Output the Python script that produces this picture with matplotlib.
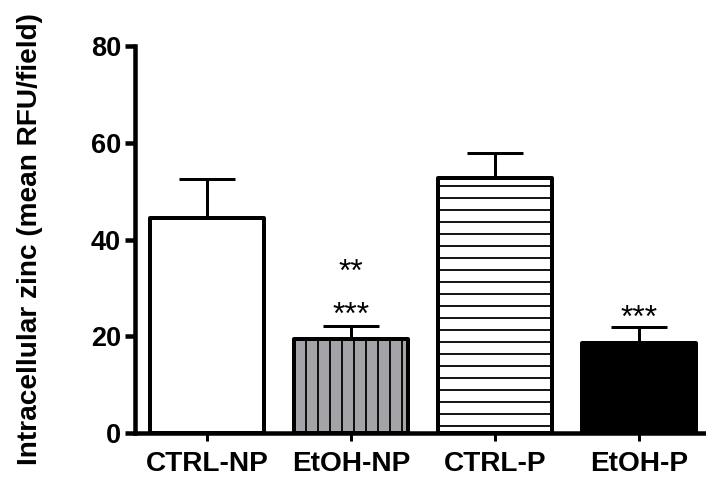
import matplotlib
matplotlib.use("Agg")
import matplotlib.pyplot as plt
import numpy as np

categories = ["CTRL-NP", "EtOH-NP", "CTRL-P", "EtOH-P"]
means = [44.5, 19.5, 52.8, 18.6]
sem_up = [8.0, 2.6, 5.0, 3.4]
fill_colors = ["white", "#a3a3a8", "white", "black"]
hatches = ["", "|", "-", ""]
star_labels = [("EtOH-NP", "**", 31.4), ("EtOH-NP", "***", 22.5), ("EtOH-P", "***", 22.0)]
y_ticks = [0, 20, 40, 60, 80]

plt.rcParams['font.family'] = ['Liberation Sans', 'DejaVu Sans']
plt.rcParams['hatch.linewidth'] = 1.8
plt.rcParams['hatch.color'] = 'black'

dpi = 72
fig = plt.figure(figsize=(706 / dpi, 483 / dpi), dpi=dpi)
ax = fig.add_axes([135 / 706, 50 / 483, (704 - 135) / 706, (433 - 46) / 483])

x = np.arange(len(categories))
for xi, m, fc, h in zip(x, means, fill_colors, hatches):
    ax.bar(xi, m, width=0.79, color=fc, edgecolor='black', linewidth=4,
           hatch=h, joinstyle='round', zorder=2)

ax.errorbar(x, means, yerr=[np.zeros(len(means)), sem_up], fmt='none',
            ecolor='black', elinewidth=3, capsize=28, capthick=3, zorder=3)

for cat, s, yv in star_labels:
    ax.text(categories.index(cat), yv, s, ha='center', va='baseline',
            fontsize=32, color='black')

ax.set_xlim(-0.5, 3.45)
ax.set_ylim(0, 80)
ax.set_yticks(y_ticks)
ax.set_xticks(x)
ax.set_xticklabels(categories, fontsize=28, fontweight='bold')
for lbl in ax.get_yticklabels():
    lbl.set_fontsize(27)
    lbl.set_fontweight('bold')
ax.set_ylabel("Intracellular zinc (mean RFU/field)", fontsize=28,
              fontweight='bold', labelpad=48)

for side in ['top', 'right']:
    ax.spines[side].set_visible(False)
for side in ['left', 'bottom']:
    ax.spines[side].set_linewidth(4.5)
ax.tick_params(axis='y', length=10, width=4.5, pad=4)
ax.tick_params(axis='x', length=8, width=3, pad=10)

fig.savefig("out.png", dpi=dpi)
